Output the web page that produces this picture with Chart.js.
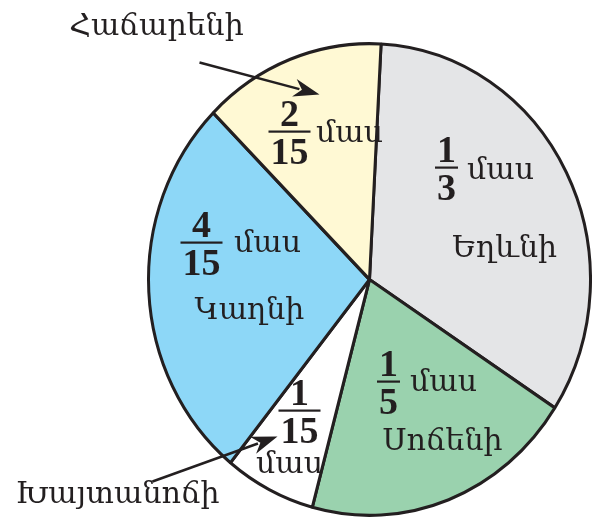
<!DOCTYPE html>
<html>
<head>
<meta charset="utf-8">
<script src="https://cdn.jsdelivr.net/npm/chart.js@4.4.1/dist/chart.umd.min.js"></script>
<style>
  html, body { margin: 0; padding: 0; background: #fff; }
  canvas { display: block; }
</style>
</head>
<body>
<canvas id="pieChart" width="592" height="520"></canvas>
<script>
// data
const names = ['Եղևնի', 'Սոճենի', 'Խայտանոճի', 'Կաղնի', 'Հաճարենի'];
const numerators = [1, 1, 1, 4, 2];
const denominators = [3, 5, 15, 15, 15];
const partWord = 'մաս';
const sliceColors = ['#e4e5e7', '#9ad2ae', '#ffffff', '#8dd7f7', '#fff9d4'];

const values = numerators.map((n, i) => n / denominators[i]);

// the drawing in the book is a bit taller than wide
const STRETCH = 1.067;
const BASE_R = 221;

const ARM = '30px "DejaVu Serif", serif';
const FRAC = 'bold 38px "Liberation Serif", "DejaVu Serif", serif';
const INK = '#231f20';

// label placement, px from the pie centre (for a radius of 221)
// frac: [x of fraction, y of fraction bar], word: [x, y] of "մաս", name: [x, y] or null
const labelPos = [
  { frac: [77, -112], word: [131, -108], name: [135, -30] },
  { frac: [19, 102], word: [74, 104], name: [73, 163] },
  { frac: [-70, 131], word: [-80, 186], name: null },
  { frac: [-168, -37], word: [-102, -35], name: [-120, 32] },
  { frac: [-80, -148], word: [-20, -145], name: null }
];
// names written outside with an arrow: [slice, text pos, arrow from, arrow to]
const outside = [
  [4, [-213, -252], [-170, -217], [-50, -185]],
  [2, [-252, 216], [-217, 202], [-92, 157]]
];

const ellipse = {
  id: 'ellipse',
  beforeDatasetsDraw(chart) {
    const arc = chart.getDatasetMeta(0).data[0];
    const ctx = chart.ctx;
    ctx.save();
    ctx.translate(arc.x, arc.y);
    ctx.scale(1, STRETCH);
    ctx.translate(-arc.x, -arc.y);
  },
  afterDatasetsDraw(chart) {
    chart.ctx.restore();
  }
};

function drawFrac(ctx, num, den, x, y) {
  ctx.font = FRAC;
  ctx.textAlign = 'center';
  ctx.fillStyle = INK;
  ctx.textBaseline = 'alphabetic';
  ctx.fillText(String(num), x, y - 6);
  ctx.textBaseline = 'top';
  ctx.fillText(String(den), x, y + 4);
  const w = Math.max(ctx.measureText(String(num)).width, ctx.measureText(String(den)).width) + 4;
  ctx.fillRect(x - w / 2, y - 1, w, 2.2);
}

function arrow(ctx, x1, y1, x2, y2) {
  const a = Math.atan2(y2 - y1, x2 - x1);
  const len = 26, half = 9;
  ctx.strokeStyle = INK;
  ctx.fillStyle = INK;
  ctx.lineWidth = 2.5;
  ctx.beginPath();
  ctx.moveTo(x1, y1);
  ctx.lineTo(x2 - Math.cos(a) * len * 0.8, y2 - Math.sin(a) * len * 0.8);
  ctx.stroke();
  ctx.beginPath();
  ctx.moveTo(x2, y2);
  ctx.lineTo(x2 - Math.cos(a) * len - Math.sin(a) * half, y2 - Math.sin(a) * len + Math.cos(a) * half);
  ctx.lineTo(x2 - Math.cos(a) * len * 0.7, y2 - Math.sin(a) * len * 0.7);
  ctx.lineTo(x2 - Math.cos(a) * len + Math.sin(a) * half, y2 - Math.sin(a) * len - Math.cos(a) * half);
  ctx.closePath();
  ctx.fill();
}

const labels = {
  id: 'labels',
  afterDraw(chart) {
    const ctx = chart.ctx;
    const arc = chart.getDatasetMeta(0).data[0];
    const k = arc.outerRadius / BASE_R;
    const P = (p) => [arc.x + p[0] * k, arc.y + p[1] * k];
    ctx.save();
    labelPos.forEach((lp, i) => {
      const f = P(lp.frac);
      drawFrac(ctx, numerators[i], denominators[i], f[0], f[1]);
      ctx.font = ARM;
      ctx.fillStyle = INK;
      ctx.textAlign = 'center';
      ctx.textBaseline = 'middle';
      const w = P(lp.word);
      ctx.fillText(partWord, w[0], w[1]);
      if (lp.name) {
        const n = P(lp.name);
        ctx.fillText(names[i], n[0], n[1]);
      }
    });
    outside.forEach(([i, t, a, b]) => {
      const tp = P(t), ap = P(a), bp = P(b);
      ctx.font = ARM;
      ctx.fillStyle = INK;
      ctx.textAlign = 'center';
      ctx.textBaseline = 'middle';
      ctx.fillText(names[i], tp[0], tp[1]);
      arrow(ctx, ap[0], ap[1], bp[0], bp[1]);
    });
    ctx.restore();
  }
};

new Chart(document.getElementById('pieChart'), {
  type: 'pie',
  data: {
    labels: names,
    datasets: [{
      data: values,
      backgroundColor: sliceColors,
      borderColor: INK,
      borderWidth: 3
    }]
  },
  options: {
    responsive: false,
    animation: false,
    rotation: 3,
    layout: { padding: { left: 147, right: 0, top: 57, bottom: 18 } },
    plugins: {
      legend: { display: false },
      tooltip: { enabled: false }
    }
  },
  plugins: [ellipse, labels]
});
</script>
</body>
</html>
